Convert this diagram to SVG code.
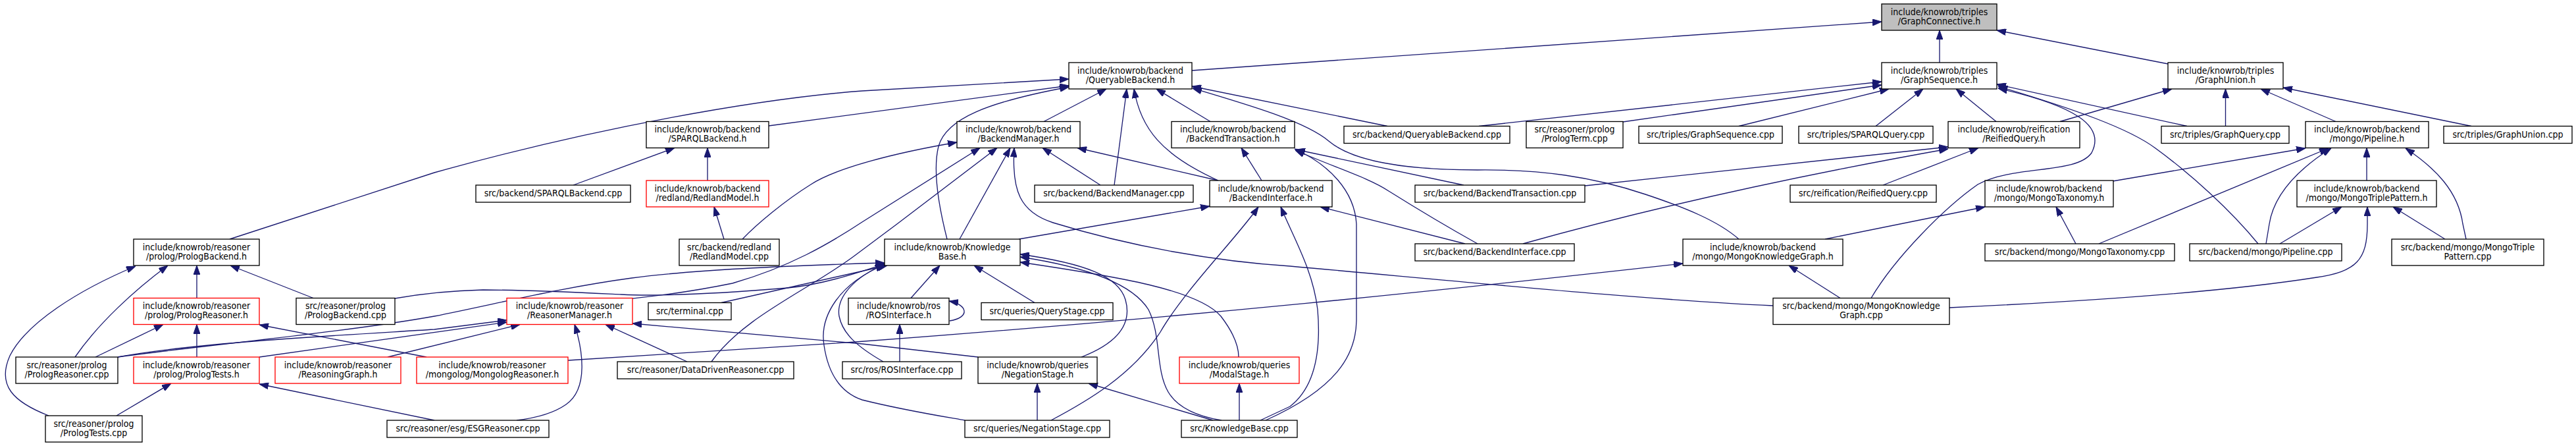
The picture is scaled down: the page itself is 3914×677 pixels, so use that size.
<svg xmlns="http://www.w3.org/2000/svg" width="3914" height="677" viewBox="0 0 3914 677">
<style>
rect{fill:#fff;stroke:#000;stroke-width:1.33}
.r rect{stroke:#f00}
.g rect{fill:#bfbfbf}
text{font-family:"DejaVu Sans Condensed","DejaVu Sans",sans-serif;font-size:14px;text-anchor:middle;fill:#000}
#edges path{fill:none;stroke:#191970;stroke-width:1.33;marker-start:url(#a)}
</style>
<defs>
<marker id="a" markerUnits="userSpaceOnUse" markerWidth="14" markerHeight="10" refX="14" refY="5" orient="auto-start-reverse" viewBox="0 0 14 10"><path d="M0,0L14,5L0,10z" fill="#191970" stroke="#191970"/></marker>
</defs>
<rect width="3914" height="677" style="stroke:none"/>
<g id="edges">
<path d="M2859,33L1811,107"/>
<path d="M2947,46L2947,95"/>
<path d="M3034,46L3294,97"/>
<path d="M1624,130L1168,191"/>
<path d="M1624,120L1310,138C1150,150 900,195 660,262L349,363"/>
<path d="M1681,135L1586,184.5"/>
<path d="M1712,135L1693,281"/>
<path d="M1624,132C1500,155 1438,180 1426,222C1416,262 1428,320 1439,363"/>
<path d="M1757,135L1839,184.5"/>
<path d="M1723,135C1733,195 1765,235 1851,274"/>
<path d="M1811,131L2108,191.5"/>
<path d="M1812,134C1900,160 1985,185 2020,215C2060,248 2150,258 2245,258C2340,257 2420,268 2500,295C2560,315 2610,335 2642,363"/>
<path d="M2859,124L2247,191.5"/>
<path d="M2859,129L2466,185"/>
<path d="M2870,135L2642,191.5"/>
<path d="M2922,135L2850,191.5"/>
<path d="M2972,135L3033,184.5"/>
<path d="M3034,128L3323,191.5"/>
<path d="M3036,131C3150,165 3235,195 3275,225C3330,265 3390,320 3431,370"/>
<path d="M3036,134C3150,160 3200,190 3178,232C3155,265 3060,250 3005,280C2955,315 2880,390 2843,452.5"/>
<path d="M3300,135L3130,184.5"/>
<path d="M3381.5,135L3381.5,191.5"/>
<path d="M3435,135L3549,184.5"/>
<path d="M3469,133L3755,191.5"/>
<path d="M3006,224.5L2861,281"/>
<path d="M2960,223L2408,282"/>
<path d="M2960,226Q2600,290 2314,370"/>
<path d="M3503,225L3210,275"/>
<path d="M3016,314L2773,363"/>
<path d="M3124,314L3154,370"/>
<path d="M3538,225L3189,370"/>
<path d="M3542,225C3490,258 3455,295 3448,340L3443,370"/>
<path d="M3596,224.5L3596,274"/>
<path d="M3655,225C3700,255 3735,290 3742,340L3747,363"/>
<path d="M3558,314L3464,370"/>
<path d="M3636,314L3715,363"/>
<path d="M3597,314L3597,340C3597,395 3580,412 3520,421C3400,440 3200,456 2962,467"/>
<path d="M2718,403L2796,452.5"/>
<path d="M2557,400C2200,440 1800,482 1300,519C1100,533 950,542 863,547"/>
<path d="M1541,224.5C1537,290 1550,322 1600,338C1720,375 1850,397 1960,404C2250,430 2500,455 2694,464"/>
<path d="M1637,224.5L1851,274"/>
<path d="M1584,224.5L1672,281"/>
<path d="M1535,224.5L1458,363"/>
<path d="M1454,216C1360,232 1270,255 1232,280C1192,305 1150,340 1128,363"/>
<path d="M1085,314L1100,363"/>
<path d="M1075,224.5L1075,274"/>
<path d="M1025,224.5L871,281"/>
<path d="M1489,224.5L1310,337C1260,370 1200,405 1113,430C1040,445 990,450 961,453"/>
<path d="M1515,224.5L1363,340L1300,387C1230,440 1130,480 1081,549"/>
<path d="M1428,403L1384,452.5"/>
<path d="M1480,403L1572,459.5"/>
<path d="M1550,386C1650,400 1700,420 1710,455C1720,490 1700,520 1643,542"/>
<path d="M1550,390C1650,405 1720,430 1745,470C1765,510 1755,560 1775,595C1790,620 1820,632 1856,638"/>
<path d="M1550,398C1700,420 1820,440 1855,480C1878,510 1882,530 1882,542"/>
<path d="M1576,582L1576,638"/>
<path d="M1654,582L1843,638"/>
<path d="M1883,582L1883,638"/>
<path d="M1946,314C1965,360 1995,410 2002,470C2008,540 1995,590 1960,617L1915,638"/>
<path d="M1967,226C2020,250 2058,290 2061,340L2061,487C2060,540 2030,590 1923,638"/>
<path d="M1912,314C1880,360 1800,440 1763,504C1720,570 1650,610 1597,638"/>
<path d="M2006,314L2226,370"/>
<path d="M1968,228C2030,255 2080,270 2110,290C2150,315 2200,345 2245,370"/>
<path d="M1969,227L2224,281"/>
<path d="M1886,224.5L1917,274"/>
<path d="M1838,313L1548,363"/>
<path d="M1367,492.5L1367,549"/>
<path d="M1442,457C1470,462 1475,482 1443,487"/>
<path d="M350,403L476,452.5"/>
<path d="M299,403L299,452.5"/>
<path d="M255,403C205,440 150,490 114,542"/>
<path d="M206,404C120,440 40,490 15,540C-5,585 20,610 74,631"/>
<path d="M299,492.5L299,542"/>
<path d="M248,492.5L145,542"/>
<path d="M394,493L648,542"/>
<path d="M260,582L177,631"/>
<path d="M394,583L660,638"/>
<path d="M770,486L660,500C500,510 300,520 179,542"/>
<path d="M770,489L394,542"/>
<path d="M790,492.5L589,542"/>
<path d="M873,492.5C885,530 895,590 860,614C840,628 810,635 785,638"/>
<path d="M920,492.5L1044,549"/>
<path d="M961,491L1310,522L1486,542"/>
<path d="M1346,400C1300,415 1250,432 1197,437C1100,445 1000,450 944,447C880,444 800,440 734,440C690,441 640,446 600,453"/>
<path d="M1344,399C1200,403 1050,410 960,422C850,437 760,460 660,480C520,505 300,525 179,542"/>
<path d="M1348,403L1096,459.5"/>
<path d="M1344,401C1300,420 1270,450 1275,480C1280,505 1300,525 1342,549"/>
<path d="M1344,402C1275,430 1245,480 1252,524C1258,565 1275,595 1310,607C1370,622 1420,630 1466,638"/>
</g>
<g id="n_gc" class="g"><rect x="2859" y="6" width="175" height="40"/><text x="2946.5" y="22.7">include/knowrob/triples</text><text x="2946.5" y="36.7">/GraphConnective.h</text></g>
<g id="n_qbh"><rect x="1624" y="95" width="187" height="40"/><text x="1717.5" y="111.7">include/knowrob/backend</text><text x="1717.5" y="125.7">/QueryableBackend.h</text></g>
<g id="n_gsh"><rect x="2859" y="95" width="175" height="40"/><text x="2946.5" y="111.7">include/knowrob/triples</text><text x="2946.5" y="125.7">/GraphSequence.h</text></g>
<g id="n_guh"><rect x="3294" y="95" width="175" height="40"/><text x="3381.5" y="111.7">include/knowrob/triples</text><text x="3381.5" y="125.7">/GraphUnion.h</text></g>
<g id="n_spbh"><rect x="982" y="184.5" width="186" height="40"/><text x="1075" y="201.2">include/knowrob/backend</text><text x="1075" y="215.2">/SPARQLBackend.h</text></g>
<g id="n_bmh"><rect x="1454" y="184.5" width="187" height="40"/><text x="1547.5" y="201.2">include/knowrob/backend</text><text x="1547.5" y="215.2">/BackendManager.h</text></g>
<g id="n_bth"><rect x="1780" y="184.5" width="187" height="40"/><text x="1873.5" y="201.2">include/knowrob/backend</text><text x="1873.5" y="215.2">/BackendTransaction.h</text></g>
<g id="n_qbcpp"><rect x="2042" y="191.5" width="252" height="26"/><text x="2168" y="208.5">src/backend/QueryableBackend.cpp</text></g>
<g id="n_pterm"><rect x="2319" y="184.5" width="147" height="40"/><text x="2392.5" y="201.2">src/reasoner/prolog</text><text x="2392.5" y="215.2">/PrologTerm.cpp</text></g>
<g id="n_gscpp"><rect x="2490" y="191.5" width="218" height="26"/><text x="2599" y="208.5">src/triples/GraphSequence.cpp</text></g>
<g id="n_sqcpp"><rect x="2733" y="191.5" width="204" height="26"/><text x="2835" y="208.5">src/triples/SPARQLQuery.cpp</text></g>
<g id="n_rqh"><rect x="2960" y="184.5" width="200" height="40"/><text x="3060" y="201.2">include/knowrob/reification</text><text x="3060" y="215.2">/ReifiedQuery.h</text></g>
<g id="n_gqcpp"><rect x="3284" y="191.5" width="194" height="26"/><text x="3381" y="208.5">src/triples/GraphQuery.cpp</text></g>
<g id="n_plh"><rect x="3503" y="184.5" width="187" height="40"/><text x="3596.5" y="201.2">include/knowrob/backend</text><text x="3596.5" y="215.2">/mongo/Pipeline.h</text></g>
<g id="n_gucpp"><rect x="3713" y="191.5" width="195" height="26"/><text x="3810.5" y="208.5">src/triples/GraphUnion.cpp</text></g>
<g id="n_spbcpp"><rect x="723" y="281" width="235" height="26"/><text x="840.5" y="298">src/backend/SPARQLBackend.cpp</text></g>
<g id="n_rmh" class="r"><rect x="982" y="274" width="186" height="40"/><text x="1075" y="290.7">include/knowrob/backend</text><text x="1075" y="304.7">/redland/RedlandModel.h</text></g>
<g id="n_bmcpp"><rect x="1572" y="281" width="241" height="26"/><text x="1692.5" y="298">src/backend/BackendManager.cpp</text></g>
<g id="n_bih"><rect x="1838" y="274" width="186" height="40"/><text x="1931" y="290.7">include/knowrob/backend</text><text x="1931" y="304.7">/BackendInterface.h</text></g>
<g id="n_btcpp"><rect x="2150" y="281" width="258" height="26"/><text x="2279" y="298">src/backend/BackendTransaction.cpp</text></g>
<g id="n_rqcpp"><rect x="2720" y="281" width="222" height="26"/><text x="2831" y="298">src/reification/ReifiedQuery.cpp</text></g>
<g id="n_mth"><rect x="3016" y="274" width="195" height="40"/><text x="3113.5" y="290.7">include/knowrob/backend</text><text x="3113.5" y="304.7">/mongo/MongoTaxonomy.h</text></g>
<g id="n_mtph"><rect x="3490" y="274" width="212" height="40"/><text x="3596" y="290.7">include/knowrob/backend</text><text x="3596" y="304.7">/mongo/MongoTriplePattern.h</text></g>
<g id="n_pbh"><rect x="203" y="363" width="191" height="40"/><text x="298.5" y="379.7">include/knowrob/reasoner</text><text x="298.5" y="393.7">/prolog/PrologBackend.h</text></g>
<g id="n_rmcpp"><rect x="1032" y="363" width="152" height="40"/><text x="1108" y="379.7">src/backend/redland</text><text x="1108" y="393.7">/RedlandModel.cpp</text></g>
<g id="n_kbh"><rect x="1344" y="363" width="206" height="40"/><text x="1447" y="379.7">include/knowrob/Knowledge</text><text x="1447" y="393.7">Base.h</text></g>
<g id="n_bicpp"><rect x="2150" y="370" width="242" height="26"/><text x="2271" y="387">src/backend/BackendInterface.cpp</text></g>
<g id="n_mkgh"><rect x="2557" y="363" width="243" height="40"/><text x="2678.5" y="379.7">include/knowrob/backend</text><text x="2678.5" y="393.7">/mongo/MongoKnowledgeGraph.h</text></g>
<g id="n_mtcpp"><rect x="3016" y="370" width="288" height="26"/><text x="3160" y="387">src/backend/mongo/MongoTaxonomy.cpp</text></g>
<g id="n_plcpp"><rect x="3327" y="370" width="231" height="26"/><text x="3442.5" y="387">src/backend/mongo/Pipeline.cpp</text></g>
<g id="n_mtpcpp"><rect x="3634" y="363" width="231" height="40"/><text x="3749.5" y="379.7">src/backend/mongo/MongoTriple</text><text x="3749.5" y="393.7">Pattern.cpp</text></g>
<g id="n_prh" class="r"><rect x="203" y="452.5" width="191" height="40"/><text x="298.5" y="469.2">include/knowrob/reasoner</text><text x="298.5" y="483.2">/prolog/PrologReasoner.h</text></g>
<g id="n_pbcpp"><rect x="450" y="452.5" width="150" height="40"/><text x="525" y="469.2">src/reasoner/prolog</text><text x="525" y="483.2">/PrologBackend.cpp</text></g>
<g id="n_rmgrh" class="r"><rect x="770" y="452.5" width="191" height="40"/><text x="865.5" y="469.2">include/knowrob/reasoner</text><text x="865.5" y="483.2">/ReasonerManager.h</text></g>
<g id="n_term"><rect x="985" y="459.5" width="126" height="26"/><text x="1048" y="476.5">src/terminal.cpp</text></g>
<g id="n_rosh"><rect x="1289" y="452.5" width="153" height="40"/><text x="1365.5" y="469.2">include/knowrob/ros</text><text x="1365.5" y="483.2">/ROSInterface.h</text></g>
<g id="n_qscpp"><rect x="1491" y="459.5" width="200" height="26"/><text x="1591" y="476.5">src/queries/QueryStage.cpp</text></g>
<g id="n_mkgcpp"><rect x="2694" y="452.5" width="268" height="40"/><text x="2828" y="469.2">src/backend/mongo/MongoKnowledge</text><text x="2828" y="483.2">Graph.cpp</text></g>
<g id="n_prcpp"><rect x="24" y="542" width="155" height="40"/><text x="101.5" y="558.7">src/reasoner/prolog</text><text x="101.5" y="572.7">/PrologReasoner.cpp</text></g>
<g id="n_pth" class="r"><rect x="203" y="542" width="191" height="40"/><text x="298.5" y="558.7">include/knowrob/reasoner</text><text x="298.5" y="572.7">/prolog/PrologTests.h</text></g>
<g id="n_rgh" class="r"><rect x="418" y="542" width="191" height="40"/><text x="513.5" y="558.7">include/knowrob/reasoner</text><text x="513.5" y="572.7">/ReasoningGraph.h</text></g>
<g id="n_mlh" class="r"><rect x="633" y="542" width="230" height="40"/><text x="748" y="558.7">include/knowrob/reasoner</text><text x="748" y="572.7">/mongolog/MongologReasoner.h</text></g>
<g id="n_ddr"><rect x="938" y="549" width="268" height="26"/><text x="1072" y="566">src/reasoner/DataDrivenReasoner.cpp</text></g>
<g id="n_roscpp"><rect x="1280" y="549" width="181" height="26"/><text x="1370.5" y="566">src/ros/ROSInterface.cpp</text></g>
<g id="n_nsh"><rect x="1486" y="542" width="181" height="40"/><text x="1576.5" y="558.7">include/knowrob/queries</text><text x="1576.5" y="572.7">/NegationStage.h</text></g>
<g id="n_msh" class="r"><rect x="1792" y="542" width="182" height="40"/><text x="1883" y="558.7">include/knowrob/queries</text><text x="1883" y="572.7">/ModalStage.h</text></g>
<g id="n_ptcpp"><rect x="69" y="631" width="147" height="40"/><text x="142.5" y="647.7">src/reasoner/prolog</text><text x="142.5" y="661.7">/PrologTests.cpp</text></g>
<g id="n_esg"><rect x="588" y="638" width="246" height="26"/><text x="711" y="655">src/reasoner/esg/ESGReasoner.cpp</text></g>
<g id="n_nscpp"><rect x="1466" y="638" width="220" height="26"/><text x="1576" y="655">src/queries/NegationStage.cpp</text></g>
<g id="n_kbcpp"><rect x="1795" y="638" width="176" height="26"/><text x="1883" y="655">src/KnowledgeBase.cpp</text></g>
</svg>
